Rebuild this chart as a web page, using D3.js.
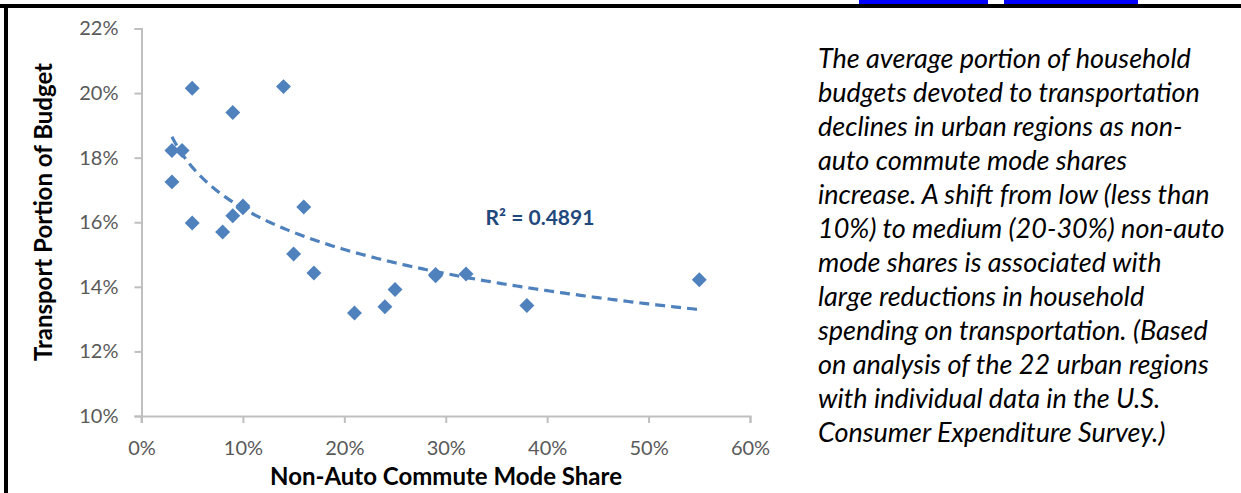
<!DOCTYPE html>
<html>
<head>
<meta charset="utf-8">
<script src="https://cdn.jsdelivr.net/npm/d3@7"></script>
<style>
  body { margin: 0; background: #fff; }
  svg { display: block; }
</style>
</head>
<body>
<div id="chart"></div>
<script>
// non-auto commute mode share (%) and transport share of budget (%)
const modeShare = [5, 14, 9, 3, 4, 3, 5, 8, 9, 10, 10, 16, 15, 17, 21, 24, 25, 29, 29, 32, 38, 55];
const budgetShare = [20.15, 20.2, 19.4, 18.22, 18.22, 17.25, 15.98, 15.7, 16.2, 16.5, 16.45, 16.47, 15.02, 14.43, 13.19, 13.38, 13.92, 14.38, 14.34, 14.4, 13.42, 14.22];
const xTicks = [0, 10, 20, 30, 40, 50, 60];
const yTicks = [10, 12, 14, 16, 18, 20, 22];
const r2Label = 'R² = 0.4891';
const noteLines = [
  'The average portion of household',
  'budgets devoted to transportation',
  'declines in urban regions as non-',
  'auto commute mode shares',
  'increase. A shift from low (less than',
  '10%) to medium (20-30%) non-auto',
  'mode shares is associated with',
  'large reductions in household',
  'spending on transportation. (Based',
  'on analysis of the 22 urban regions',
  'with individual data in the U.S.',
  'Consumer Expenditure Survey.)',
];

const w = 1241, h = 493;
const blue = '#4f81bd';
const axisGrey = '#bfbfbf';
const labelGrey = '#595959';
const font = 'Lato, "Open Sans", sans-serif';

const svg = d3.select('#chart').append('svg').attr('width', w).attr('height', h);

// frame from the page layout (title cut off above)
svg.append('rect').attr('x', 0).attr('y', 4).attr('width', w).attr('height', 4).attr('fill', '#000');
svg.append('rect').attr('x', 4).attr('y', 4).attr('width', 4).attr('height', h - 4).attr('fill', '#000');
svg.append('rect').attr('x', 859).attr('y', 0).attr('width', 129).attr('height', 4).attr('fill', '#0000ff');
svg.append('rect').attr('x', 1004).attr('y', 0).attr('width', 134).attr('height', 4).attr('fill', '#0000ff');

const xScale = d3.scaleLinear().domain([0, 60]).range([141.5, 750]);
const yScale = d3.scaleLinear().domain([10, 22]).range([416, 28.5]);

const xAxis = d3.axisBottom(xScale).tickValues(xTicks).tickSize(7).tickPadding(18)
  .tickFormat(d => d + '%');
const yAxis = d3.axisLeft(yScale).tickValues(yTicks).tickSize(7).tickPadding(16)
  .tickFormat(d => d + '%');

const gx = svg.append('g').attr('transform', 'translate(0,416)').call(xAxis);
const gy = svg.append('g').attr('transform', 'translate(141.5,0)').call(yAxis);
[gx, gy].forEach(g => {
  g.select('.domain').attr('stroke', axisGrey).attr('stroke-width', 2);
  g.selectAll('.tick line').attr('stroke', axisGrey).attr('stroke-width', 2);
  g.selectAll('.tick text').attr('fill', labelGrey).style('font-family', font).style('font-size', '20px');
});
// y axis runs down to the x tick length
svg.append('line').attr('x1', 141.5).attr('x2', 141.5).attr('y1', 416).attr('y2', 423)
  .attr('stroke', axisGrey).attr('stroke-width', 2);

// axis titles
svg.append('text')
  .attr('x', 446).attr('y', 485)
  .attr('text-anchor', 'middle')
  .style('font-family', font).style('font-weight', 'bold').style('font-size', '24px')
  .text('Non-Auto Commute Mode Share');
svg.append('text')
  .attr('transform', 'translate(52,212) rotate(-90)')
  .attr('text-anchor', 'middle')
  .style('font-family', font).style('font-weight', 'bold').style('font-size', '24px')
  .text('Transport Portion of Budget');

// logarithmic trendline fitted to the points
const lx = modeShare.map(Math.log);
const mx = d3.mean(lx), my = d3.mean(budgetShare);
const slope = d3.sum(lx, (v, i) => (v - mx) * (budgetShare[i] - my)) / d3.sum(lx, v => (v - mx) ** 2);
const icpt = my - slope * mx;
const trendX = d3.range(d3.min(modeShare), d3.max(modeShare) + 0.01, 0.25);
const trendLine = d3.line().x(d => xScale(d)).y(d => yScale(slope * Math.log(d) + icpt));
svg.append('path')
  .datum(trendX)
  .attr('d', trendLine)
  .attr('fill', 'none')
  .attr('stroke', blue)
  .attr('stroke-width', 3.2)
  .attr('stroke-dasharray', '10,6');

const points = modeShare.map((x, i) => ({ x, y: budgetShare[i] }));
svg.selectAll('.node')
  .data(points)
  .enter()
  .append('path')
  .attr('class', 'node')
  .attr('d', d3.symbol(d3.symbolSquare, 112))
  .attr('transform', d => 'translate(' + xScale(d.x) + ',' + yScale(d.y) + ') rotate(45)')
  .attr('fill', blue);

svg.append('text')
  .attr('x', 540).attr('y', 225)
  .attr('text-anchor', 'middle')
  .attr('fill', '#1f497d')
  .style('font-family', font).style('font-weight', 'bold').style('font-size', '21px')
  .text(r2Label);

// note on the right
svg.append('g')
  .selectAll('text')
  .data(noteLines)
  .enter()
  .append('text')
  .attr('x', 818)
  .attr('y', (d, i) => 68 + i * 34)
  .style('font-family', font).style('font-style', 'italic').style('font-size', '27px')
  .attr('fill', '#000')
  .text(d => d);
</script>
</body>
</html>
